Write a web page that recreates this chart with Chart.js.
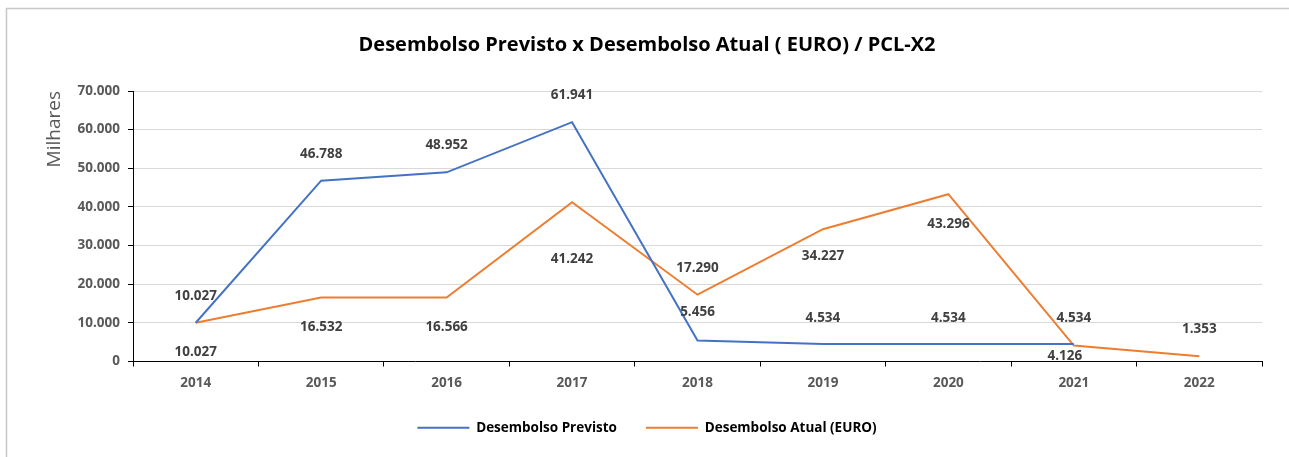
<!DOCTYPE html>
<html>
<head>
<meta charset="utf-8">
<script src="https://cdn.jsdelivr.net/npm/chart.js@4.4.0/dist/chart.umd.min.js"></script>
<style>
  body { margin: 0; background: #fff; }
  canvas { display: block; }
</style>
</head>
<body>
<canvas id="lineChart" width="1289" height="457"></canvas>
<script>
// chart data
var years = ['2014', '2015', '2016', '2017', '2018', '2019', '2020', '2021', '2022'];
var previsto = [10027, 46788, 48952, 61941, 5456, 4534, 4534, 4534, null];
var atual = [10027, 16532, 16566, 41242, 17290, 34227, 43296, 4126, 1353];
var yTicks = [0, 10000, 20000, 30000, 40000, 50000, 60000, 70000];

// where each value label sits relative to its point (px)
var previstoLabelDy = [-27, -27, -27, -27, -28, -26, -26, -26, 0];
var atualLabelDy = [29, 30, 30, 57, -27, 27, 30, 11, -27];
var atualLabelDx = [0, 0, 0, 0, 0, 0, 0, -9, 0];

var FONT = '"Open Sans"';

function fmt(v) {
    return String(Math.round(v)).replace(/\B(?=(\d{3})+(?!\d))/g, '.');
}

// white background + the gray frame of the original picture
var framePlugin = {
    id: 'frame',
    beforeDraw: function (chart) {
        var ctx = chart.ctx;
        ctx.save();
        ctx.fillStyle = '#fff';
        ctx.fillRect(0, 0, chart.width, chart.height);
        ctx.strokeStyle = '#c8c8c8';
        ctx.lineWidth = 1.5;
        ctx.beginPath();
        ctx.moveTo(6.5, chart.height);
        ctx.lineTo(6.5, 8.5);
        ctx.lineTo(chart.width, 8.5);
        ctx.stroke();
        ctx.restore();
    }
};

// value labels next to the points
var valueLabels = {
    id: 'valueLabels',
    afterDatasetsDraw: function (chart) {
        var ctx = chart.ctx;
        var offsets = [
            { dy: previstoLabelDy, dx: null },
            { dy: atualLabelDy, dx: atualLabelDx }
        ];
        ctx.save();
        ctx.font = 'bold 13.5px ' + FONT;
        ctx.fillStyle = '#404040';
        ctx.textAlign = 'center';
        ctx.textBaseline = 'middle';
        chart.data.datasets.forEach(function (ds, i) {
            var meta = chart.getDatasetMeta(i);
            meta.data.forEach(function (pt, j) {
                var v = ds.data[j];
                if (v === null || v === undefined) return;
                var dx = offsets[i].dx ? offsets[i].dx[j] : 0;
                ctx.fillText(fmt(v), pt.x + dx, pt.y + offsets[i].dy[j]);
            });
        });
        ctx.restore();
    }
};

var ctxEl = document.getElementById('lineChart');

new Chart(ctxEl, {
    type: 'line',
    data: {
        labels: years,
        datasets: [
            {
                label: 'Desembolso Previsto',
                data: previsto,
                borderColor: '#4472C4',
                backgroundColor: '#4472C4',
                borderWidth: 2,
                pointRadius: 0,
                tension: 0,
                spanGaps: false
            },
            {
                label: 'Desembolso Atual (EURO)',
                data: atual,
                borderColor: '#ED7D31',
                backgroundColor: '#ED7D31',
                borderWidth: 2,
                pointRadius: 0,
                tension: 0
            }
        ]
    },
    options: {
        responsive: false,
        animation: false,
        layout: { padding: { left: 32, right: 27, top: 0, bottom: 12.5 } },
        plugins: {
            title: {
                display: true,
                text: 'Desembolso Previsto x Desembolso Atual ( EURO) / PCL-X2',
                color: '#000',
                font: { family: FONT, size: 20, weight: 'bold' },
                padding: { top: 33, bottom: 34 }
            },
            legend: {
                position: 'bottom',
                labels: {
                    color: '#000',
                    font: { family: FONT, size: 13.5, weight: 'bold' },
                    boxWidth: 52,
                    boxHeight: 2,
                    padding: 29,
                    generateLabels: function (chart) {
                        var items = Chart.defaults.plugins.legend.labels.generateLabels(chart);
                        items.forEach(function (it) {
                            it.fillStyle = it.strokeStyle;
                            it.lineWidth = 0;
                        });
                        return items;
                    }
                }
            },
            tooltip: { enabled: false }
        },
        scales: {
            x: {
                offset: true,
                grid: {
                    display: true,
                    offset: true,
                    drawOnChartArea: false,
                    tickLength: 5,
                    tickColor: '#000'
                },
                border: { color: '#000', width: 1 },
                ticks: {
                    color: '#595959',
                    padding: 9,
                    maxRotation: 0,
                    font: { family: FONT, size: 13.5, weight: 'bold' }
                },
                afterFit: function (scale) { scale.height = 30.5; }
            },
            y: {
                min: 0,
                max: 70000,
                afterBuildTicks: function (scale) {
                    scale.ticks = yTicks.map(function (v) { return { value: v }; });
                },
                grid: {
                    color: '#d9d9d9',
                    tickColor: '#000',
                    tickLength: 5
                },
                border: { color: '#000', width: 1 },
                ticks: {
                    color: '#595959',
                    padding: 8,
                    font: { family: FONT, size: 13.5, weight: 'bold' },
                    callback: function (v) { return fmt(v); }
                },
                title: {
                    display: true,
                    text: 'Milhares',
                    align: 'end',
                    color: '#595959',
                    font: { family: FONT, size: 19, weight: 'normal' },
                    padding: { top: 11, bottom: 0 }
                },
                afterFit: function (scale) { scale.width = 101; }
            }
        }
    },
    plugins: [framePlugin, valueLabels]
});
</script>
</body>
</html>
